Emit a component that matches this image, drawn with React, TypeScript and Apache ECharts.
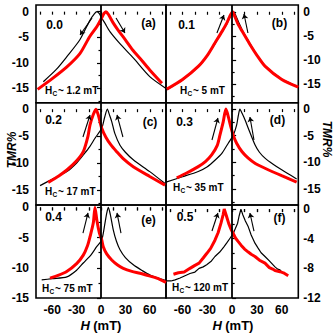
import React, { useEffect, useRef } from 'react';
import * as echarts from 'echarts';

// ---------- data (H in mT, TMR in %) ----------
const aRed = [[-78,-15.2],[-60,-13.1],[-42,-10.8],[-26,-8.2],[-14,-4.9],[-5,-2.9],[0.6,-1.3],[3.5,-0.4],[6,0],[9,-0.5],[15,-2.2],[21,-3.6],[30,-5.5],[39,-7.5],[50,-9.5],[60,-11.4],[75,-14]];
const aBlack = [[-71,-13.7],[-55,-11.3],[-42,-8.8],[-26,-5.5],[-14,-1.8],[-8,-0.4],[-5,0],[-2,-0.4],[0,-1],[5,-2.3],[11,-3.9],[23,-6.2],[40,-9.1],[60,-12.7],[80,-15]];
const bRed = [[-79,-16],[-60,-14],[-41,-11.3],[-30,-9],[-21,-6.5],[-12,-4],[-6.7,-2.4],[-3,-1],[0.5,0],[3,-0.9],[7,-2.5],[12,-4],[21,-6.6],[30,-9],[40,-11.3],[60,-14],[80,-15.6]];
const bBlack = [[-79,-16.1],[-60,-14.1],[-41,-11.4],[-30,-9.1],[-21,-6.7],[-12,-4.1],[-6.7,-2.6],[-3,-1.3],[2,0],[4.5,-0.8],[8,-2.2],[12,-3.7],[21,-6.4],[30,-8.9],[40,-11.2],[60,-13.9],[80,-15.5]];
const cRed = [[-65,-13.6],[-52,-12.4],[-42,-11.3],[-30,-9.6],[-21.8,-7.9],[-16,-5],[-13.5,-2.9],[-9.5,-1],[-6.2,0],[-3.3,-1.1],[0.9,-3.55],[6,-5.2],[12,-6.6],[19.3,-7.9],[28,-9.3],[39.7,-10.7],[60,-12.5],[78.8,-14.1]];
const cBlack = [[-75,-14.2],[-60,-13],[-42,-11.6],[-30,-10],[-21.8,-8.5],[-14,-7],[-7.4,-5.4],[0.9,-3.55],[4.5,-1.5],[7.8,0],[10.5,-1.1],[13.2,-2.3],[17,-4.5],[23.4,-6.7],[30,-8],[39.7,-9.4],[60,-11.6],[78.8,-13.8]];
const dRed = [[-67,-12.9],[-55,-12],[-41,-10.8],[-32,-9.8],[-24.8,-8.6],[-18,-6.8],[-14.8,-4.9],[-10.8,-2.4],[-7.5,0],[-4.5,-1.5],[-1.5,-3.4],[1.3,-4.9],[5.4,-6.4],[12,-8],[19.5,-9.2],[28,-10.2],[39.7,-11.1],[59.9,-12.5],[78,-13.7]];
const dBlack = [[-80,-13.7],[-60,-12.7],[-41,-11.7],[-30,-10.8],[-20.8,-9.6],[-12,-8.2],[-4.7,-6.4],[1.3,-4.9],[5.4,-3],[7.5,-1.2],[9.4,0],[12,-0.8],[15.5,-2],[19.5,-3.6],[27.6,-6.7],[33,-8.1],[39.7,-9.2],[50,-10.4],[59.9,-11.4],[78,-13.1]];
const eRed = [[-62.8,-11.7],[-52,-11.2],[-42.2,-10.6],[-30,-9.3],[-21.8,-7.9],[-16.5,-6.3],[-13.5,-4.85],[-9.5,-2.6],[-7.4,0],[-5,-2.2],[-2,-4.2],[0.9,-5.4],[2.8,-6.5],[7,-7.7],[13.2,-8.7],[20,-9.5],[27.4,-10.1],[38,-10.6],[48,-10.9],[58,-11.3],[68.6,-11.7],[80,-12.4]];
const eBlack = [[-73,-12],[-60,-11.8],[-42,-11.5],[-30,-10.4],[-21.8,-9.2],[-12,-7.8],[-5.3,-6.5],[0.9,-5.4],[4.9,-2.6],[7,-1],[9,0],[11.5,-1.2],[15.1,-3.7],[19,-5.6],[23.4,-7],[30,-8.3],[39.8,-9.5],[50,-10.4],[60.3,-11.2],[80,-12.1]];
const fRed = [[-71,-8.8],[-65,-8.6],[-58,-8.5],[-51,-8.0],[-45,-7.6],[-40,-7.3],[-35,-6.6],[-30.8,-6.0],[-26,-5.3],[-20.8,-4.2],[-17,-3.2],[-13.5,-1.9],[-11,-0.8],[-9.6,0],[-7,-0.9],[-4,-2.0],[-1,-2.8],[1.3,-3.3],[4,-3.9],[7.4,-4.4],[11,-4.9],[15,-5.4],[19.5,-5.8],[23,-6.1],[27.6,-6.4],[33,-6.9],[39.7,-7.3],[45,-7.9],[49,-8.1],[51.8,-8.3],[57.8,-8.45],[62,-8.6],[67.8,-9.0]];
const fBlack = [[-80,-9.7],[-74,-9.7],[-69,-9.55],[-63,-9.3],[-57,-9.0],[-51,-8.7],[-45,-8.5],[-40,-8.0],[-35,-7.8],[-30.8,-7.5],[-25,-7.0],[-20.8,-6.4],[-15,-5.8],[-10,-5.1],[-6.7,-4.6],[-3,-4.0],[1.3,-3.3],[4,-2.6],[6.6,-1.9],[8.5,-0.9],[10.6,0],[13,-0.8],[16,-1.6],[19.5,-2.4],[23,-3.5],[27.6,-4.6],[31,-5.2],[35,-5.9],[39.7,-6.4],[45,-7.0],[51.8,-7.8],[55,-8.1],[57.8,-8.2],[60,-8.5]];

const compositions = ['0.0', '0.1', '0.2', '0.3', '0.4', '0.5'];
const panelTags = ['(a)', '(b)', '(c)', '(d)', '(e)', '(f)'];
const coercive = ['1.2', '5', '17', '35', '75', '120'];

const xLabelValues = [-60, -30, 0, 30, 60];
const xTickValues = [-75, -60, -45, -30, -15, 0, 15, 30, 45, 60, 75];
const yMainTicks = [0, -5, -10, -15];
const yMinorTicks = [-2.5, -7.5, -12.5, -17.5];
const yMainTicksF = [0, -4, -8, -12];
const yMinorTicksF = [-2, -6, -10];
const yRanges = [[-17.8, 1.3], [-18.8, 1.4], [-17.8, 1.2], [-18, 1.2], [-15, 0.4], [-12, 0.55]];

const arrowsA = [[[-11, -1.24], [-25.8, -4.57]], [[18.5, -1.24], [29.5, -4.17]]];
const arrowsB = [[[-18.4, -4.39], [-9.9, -0.67]], [[19.1, -4.39], [14.3, -0.46]]];
const arrowsC = [[[-22.2, -5.17], [-13.5, -1.08]], [[27, -5.17], [19.7, -1.08]]];
const arrowsD = [[[-24.4, -5.8], [-17.2, -1.67]], [[26.4, -5.8], [21.5, -1.48]]];
const arrowsE = [[[-22.2, -4.24], [-16, -0.92]], [[24.6, -4.24], [19.7, -0.92]]];
const arrowsF = [[[-24.4, -2.96], [-17.2, -0.53]], [[26.4, -2.96], [21.5, -0.53]]];

const reds = [aRed, bRed, cRed, dRed, eRed, fRed];
const blacks = [aBlack, bBlack, cBlack, dBlack, eBlack, fBlack];
const arrows = [arrowsA, arrowsB, arrowsC, arrowsD, arrowsE, arrowsF];

// ---------- layout ----------
const FONT = '"Liberation Sans", Arial, Helvetica, sans-serif';
const cols = [{ left: 36, width: 130 }, { left: 166, width: 132.3 }];
const rows = [{ top: 5, height: 97.7 }, { top: 102.7, height: 102.3 }, { top: 205, height: 93 }];
// [compX, compY, tagX, tagY, hcX, hcY]
const annot = [
  [54.5, 25, 148.5, 23, 45, 90],
  [186.5, 25, 279.5, 23, 180, 90.7],
  [53.5, 120, 150, 122, 45, 191],
  [184.5, 122, 277.5, 120, 173, 187],
  [53.5, 217, 148.5, 220, 42, 288],
  [185, 217, 279.5, 218, 172, 287],
];

function buildOption() {
  const grid: any[] = [];
  const xAxis: any[] = [];
  const yAxis: any[] = [];
  const series: any[] = [];
  const graphic: any[] = [];
  const bold = { color: '#000', fontFamily: FONT, fontWeight: 'bold', fontSize: 12 };

  for (let i = 0; i < 6; i++) {
    const col = i % 2;
    const row = Math.floor(i / 2);
    grid.push({
      left: cols[col].left, top: rows[row].top, width: cols[col].width, height: rows[row].height,
      show: true, borderColor: '#000', borderWidth: 1.6, backgroundColor: 'transparent',
      containLabel: false, outerBoundsMode: 'none',
    });
    const xb = xAxis.length;
    xAxis.push({
      gridIndex: i, type: 'value', min: -80, max: 80, position: 'bottom',
      axisLine: { show: false }, splitLine: { show: false },
      axisTick: { show: row === 2, inside: false, length: 3, customValues: xTickValues, lineStyle: { color: '#000', width: 1.2 } },
      axisLabel: { show: row === 2, customValues: xLabelValues, margin: 6, ...bold },
    });
    xAxis.push({
      gridIndex: i, type: 'value', min: -80, max: 80, position: 'top',
      axisLine: { show: false }, splitLine: { show: false },
      axisTick: { show: true, inside: true, length: 3, customValues: xTickValues, lineStyle: { color: '#000', width: 1.2 } },
      axisLabel: { show: false },
    });
    const isF = i === 5;
    const yb = yAxis.length;
    const side = col === 0 ? 'left' : 'right';
    yAxis.push({
      gridIndex: i, type: 'value', min: yRanges[i][0], max: yRanges[i][1], position: side,
      axisLine: { show: false }, splitLine: { show: false },
      axisTick: { show: true, inside: false, length: 4, customValues: isF ? yMainTicksF : yMainTicks, lineStyle: { color: '#000', width: 1.2 } },
      axisLabel: { show: true, customValues: isF ? yMainTicksF : yMainTicks, margin: col === 0 ? 7 : 5, ...bold },
    });
    yAxis.push({
      gridIndex: i, type: 'value', min: yRanges[i][0], max: yRanges[i][1], position: side,
      axisLine: { show: false }, splitLine: { show: false },
      axisTick: { show: true, inside: false, length: 2.5, customValues: isF ? yMinorTicksF : yMinorTicks, lineStyle: { color: '#000', width: 1.2 } },
      axisLabel: { show: false },
    });

    series.push({
      type: 'line', xAxisIndex: xb, yAxisIndex: yb, data: blacks[i], showSymbol: false, symbol: 'none',
      smooth: isF ? false : 0.25, lineStyle: { color: '#000', width: 1.2 }, z: 2, silent: true,
      markLine: {
        silent: true, symbol: ['none', 'arrow'], symbolSize: 5, label: { show: false },
        lineStyle: { color: '#000', width: 1.1, type: 'solid' },
        data: arrows[i].map(([p, q]) => [{ coord: p }, { coord: q }]),
      },
    });
    series.push({
      type: 'line', xAxisIndex: xb, yAxisIndex: yb, data: reds[i], showSymbol: false, symbol: 'none',
      smooth: isF ? false : 0.25, lineStyle: { color: '#ff0000', width: 3 }, z: 3, silent: true,
      markLine: {
        silent: true, symbol: 'none', label: { show: false },
        lineStyle: { color: '#000', width: 1.8, type: 'solid' },
        data: [{ xAxis: 0 }],
      },
    });

    const [cx, cy, tx, ty, hx, hy] = annot[i];
    graphic.push({ type: 'text', x: cx, y: cy, silent: true, style: { text: compositions[i], font: `bold 12px ${FONT}`, fill: '#000', textAlign: 'center', textVerticalAlign: 'middle' } });
    graphic.push({ type: 'text', x: tx, y: ty, silent: true, style: { text: panelTags[i], font: `bold 12px ${FONT}`, fill: '#000', textAlign: 'center', textVerticalAlign: 'middle' } });
    graphic.push({ type: 'text', x: hx, y: hy, silent: true, style: { text: 'H', font: `bold 10px ${FONT}`, fill: '#000', textAlign: 'left', textVerticalAlign: 'middle' } });
    graphic.push({ type: 'text', x: hx + 7.6, y: hy + 3, silent: true, style: { text: 'C', font: `bold 6.5px ${FONT}`, fill: '#000', textAlign: 'left', textVerticalAlign: 'middle' } });
    graphic.push({ type: 'text', x: hx + 13, y: hy, silent: true, style: { text: `~ ${coercive[i]} mT`, font: `bold 10px ${FONT}`, fill: '#000', textAlign: 'left', textVerticalAlign: 'middle' } });
  }

  graphic.push({ type: 'text', x: 12, y: 150, rotation: Math.PI / 2, silent: true, style: { text: 'TMR%', font: `italic bold 12px ${FONT}`, fill: '#000', textAlign: 'center', textVerticalAlign: 'middle' } });
  graphic.push({ type: 'text', x: 327, y: 139, rotation: -Math.PI / 2, silent: true, style: { text: 'TMR%', font: `italic bold 12px ${FONT}`, fill: '#000', textAlign: 'center', textVerticalAlign: 'middle' } });
  const hName = (x: number) => ({
    type: 'text', x, y: 325, silent: true,
    style: {
      text: '{i|H} {n|(mT)}', textAlign: 'center', textVerticalAlign: 'middle',
      rich: {
        i: { fontFamily: FONT, fontStyle: 'italic', fontWeight: 'bold', fontSize: 13, fill: '#000' },
        n: { fontFamily: FONT, fontWeight: 'bold', fontSize: 13, fill: '#000' },
      },
    },
  });
  graphic.push(hName(101));
  graphic.push(hName(233));

  return { animation: false, backgroundColor: '#fff', grid, xAxis, yAxis, series, graphic };
}

export default function App() {
  const ref = useRef<HTMLDivElement>(null);
  useEffect(() => {
    if (!ref.current) return;
    const chart = echarts.init(ref.current, undefined, { renderer: 'svg' });
    chart.setOption(buildOption() as any);
    return () => chart.dispose();
  }, []);
  return <div ref={ref} style={{ position: 'fixed', left: 0, top: 0, width: 335, height: 335 }} />;
}
